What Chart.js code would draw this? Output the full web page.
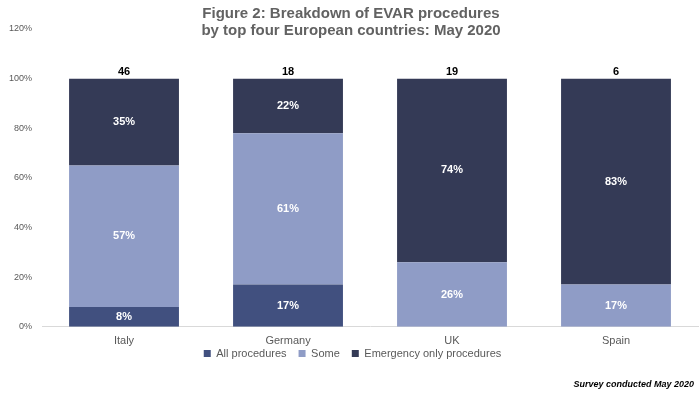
<!DOCTYPE html>
<html>
<head>
<meta charset="utf-8">
<script src="https://cdn.jsdelivr.net/npm/chart.js@4"></script>
<style>
  html, body { margin: 0; padding: 0; background: #fff; }
  #wrap { width: 700px; height: 393px; position: relative; }
</style>
</head>
<body>
<div id="wrap"><canvas id="chart" width="700" height="393"></canvas></div>
<script>
const countries = ['Italy', 'Germany', 'UK', 'Spain'];
const allProcedures = [8, 17, 0, 0];
const some = [57, 61, 26, 17];
const emergencyOnly = [35, 22, 74, 83];
const respondents = [46, 18, 19, 6];
const titleLines = ['Figure 2: Breakdown of EVAR procedures', 'by top four European countries: May 2020'];
const footnote = 'Survey conducted May 2020';

// labels inside the segments plus totals on top
const barLabels = {
    id: 'barLabels',
    afterDatasetsDraw(chart) {
        const ctx = chart.ctx;
        ctx.save();
        ctx.textAlign = 'center';
        ctx.textBaseline = 'middle';
        ctx.font = 'bold 11px "Liberation Sans", Arial, sans-serif';
        ctx.fillStyle = '#ffffff';
        chart.data.datasets.forEach((ds, i) => {
            chart.getDatasetMeta(i).data.forEach((bar, j) => {
                if (!ds.data[j]) return;
                const mid = (bar.y + bar.base) / 2;
                ctx.fillText(ds.data[j] + '%', bar.x, mid);
            });
        });
        const top = chart.getDatasetMeta(chart.data.datasets.length - 1).data;
        ctx.fillStyle = '#000000';
        ctx.textBaseline = 'bottom';
        top.forEach((bar, j) => {
            ctx.fillText(respondents[j], bar.x, bar.y - 1);
        });
        ctx.restore();
    }
};

// title over the plot and footnote in the corner
const overlayText = {
    id: 'overlayText',
    afterLayout(chart) {
        // pull the legend up closer to the category labels
        const lg = chart.legend;
        lg.top -= 12;
        lg.bottom -= 12;
    },
    afterDraw(chart) {
        const ctx = chart.ctx;
        ctx.save();
        ctx.textAlign = 'center';
        ctx.textBaseline = 'middle';
        ctx.fillStyle = '#626262';
        ctx.font = 'bold 15px "Liberation Sans", Arial, sans-serif';
        ctx.fillText(titleLines[0], 351, 14);
        ctx.fillText(titleLines[1], 351, 31);
        ctx.textAlign = 'right';
        ctx.fillStyle = '#000000';
        ctx.font = 'italic bold 9px "Liberation Sans", Arial, sans-serif';
        ctx.fillText(footnote, 694, 385);
        ctx.restore();
    }
};

new Chart(document.getElementById('chart'), {
    type: 'bar',
    data: {
        labels: countries,
        datasets: [
            { label: 'All procedures', data: allProcedures, backgroundColor: '#41507f', stack: 's' },
            { label: 'Some', data: some, backgroundColor: '#8f9cc6', stack: 's' },
            { label: 'Emergency only procedures', data: emergencyOnly, backgroundColor: '#343a56', stack: 's' }
        ]
    },
    options: {
        responsive: false,
        animation: false,
        layout: { padding: { top: 29, left: 7, right: 2, bottom: 12 } },
        datasets: { bar: { categoryPercentage: 0.67, barPercentage: 1 } },
        scales: {
            x: {
                stacked: true,
                grid: { display: false },
                border: { color: '#d9d9d9' },
                ticks: { color: '#595959', font: { size: 11, family: '"Liberation Sans", Arial, sans-serif' }, padding: 0 }
            },
            y: {
                stacked: true,
                min: 0,
                max: 120,
                grid: { display: false },
                border: { display: false },
                ticks: {
                    stepSize: 20,
                    color: '#595959',
                    padding: 2,
                    font: { size: 9, family: '"Liberation Sans", Arial, sans-serif' },
                    callback: v => v + '%'
                }
            }
        },
        plugins: {
            legend: {
                position: 'bottom',
                labels: {
                    color: '#595959',
                    boxWidth: 7,
                    boxHeight: 7,
                    padding: 12,
                    font: { size: 11, family: '"Liberation Sans", Arial, sans-serif' }
                }
            },
            tooltip: { enabled: false }
        }
    },
    plugins: [barLabels, overlayText]
});
</script>
</body>
</html>
